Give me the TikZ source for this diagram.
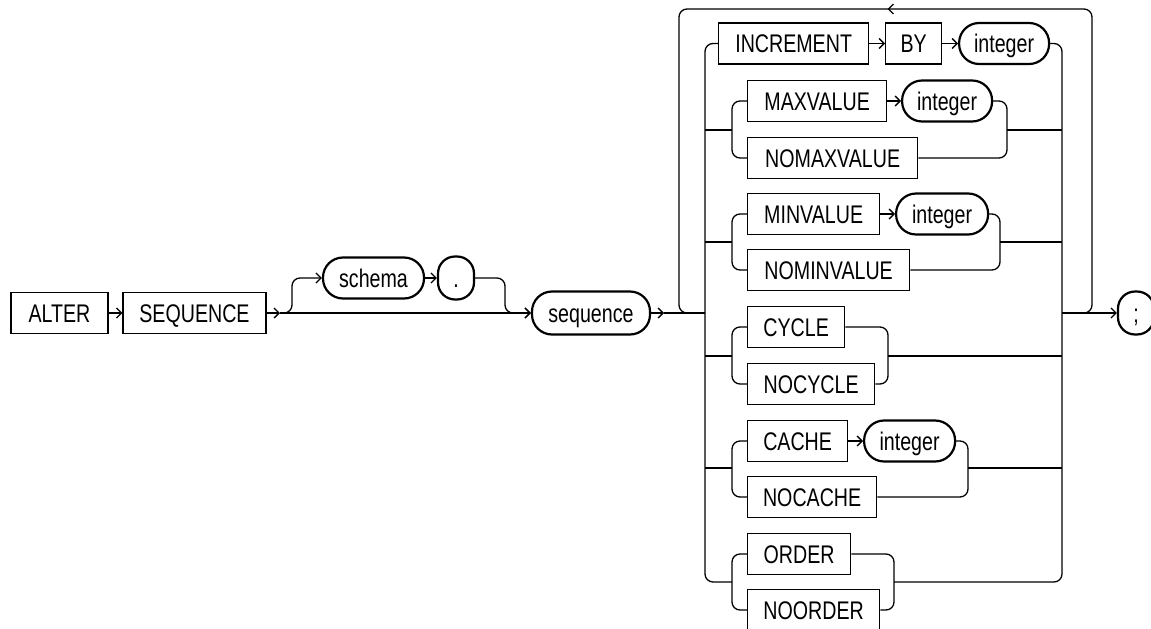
\documentclass[tikz,border=0pt]{standalone}
\usepackage{fontspec}
\setmainfont[FakeStretch=0.77]{Liberation Sans}
\usetikzlibrary{arrows.meta,decorations.markings}

\tikzset{
  kw/.style={draw,line width=1.3pt,minimum height=41pt,inner sep=0pt,
    text height=18.5pt,text depth=0pt,font=\fontsize{25.5}{30}\selectfont},
  ident/.style={kw,line width=2.2pt,rounded corners=20pt},
  rail/.style={line width=1.3pt,rounded corners=8pt},
  into/.style={-{Straight Barb[length=5pt,width=10pt]}},
  back/.style={postaction={decorate},decoration={markings,
    mark=at position 0.5 with {\arrow{Straight Barb[length=5pt,width=10pt]}}}},
}

\begin{document}
\begin{tikzpicture}[x=1pt,y=-1pt]
  \useasboundingbox (0,0) rectangle (1151,629);
  %% Head of the statement
  \node[kw,minimum width=97pt] (alter) at (59.5,313) {ALTER};
  \node[kw,minimum width=143pt] (seqkw) at (194.5,313) {SEQUENCE};
  \node[ident,minimum width=101pt] (schema) at (373.5,278) {schema};
  \node[ident,minimum width=36pt,minimum height=43pt,rounded corners=17pt] (dot) at (456,278) {.};
  \node[ident,minimum width=118pt,minimum height=43pt] (seqname) at (591,313) {sequence};
  \node[ident,minimum width=36pt,minimum height=43pt,rounded corners=17pt] (semi) at (1136,313) {;};
  %% Junctions
  \coordinate (sqtip) at (280,313);
  \coordinate (brA) at (292,278);
  \coordinate (brB) at (505,313);
  \coordinate (seqtip) at (664,313);
  \coordinate (lspine) at (705,313);
  \coordinate (rspine) at (1062,313);
  \coordinate (loopNE) at (1092,9);
  \coordinate (loopNW) at (679,9);
  \coordinate (maxL) at (732,130); \coordinate (maxR) at (1007,130);
  \coordinate (minL) at (732,242); \coordinate (minR) at (1000,242);
  \coordinate (cycL) at (732,356); \coordinate (cycR) at (888,356);
  \coordinate (cacL) at (732,468); \coordinate (cacR) at (968,468);
  \coordinate (ordL) at (732,582); \coordinate (ordR) at (894,582);
  %% Options
  \node[kw,anchor=west,minimum width=150pt] (incr) at (718,43.5) {INCREMENT};
  \node[kw,anchor=west,minimum width=56pt] (by) at (885,43.5) {BY};
  \node[ident,anchor=west,minimum width=90pt] (incrint) at (958,43.5) {integer};
  \node[kw,anchor=west,minimum width=139pt] (maxkw) at (747,101) {MAXVALUE};
  \node[ident,anchor=west,minimum width=90pt] (maxint) at (901,101) {integer};
  \node[kw,anchor=west,minimum width=170pt] (nomax) at (747,158) {NOMAXVALUE};
  \node[kw,anchor=west,minimum width=132pt] (minkw) at (747,214) {MINVALUE};
  \node[ident,anchor=west,minimum width=92pt] (minint) at (895,214) {integer};
  \node[kw,anchor=west,minimum width=162pt] (nomin) at (747,270) {NOMINVALUE};
  \node[kw,anchor=west,minimum width=97pt] (cyc) at (747,327) {CYCLE};
  \node[kw,anchor=west,minimum width=127pt] (nocyc) at (747,384) {NOCYCLE};
  \node[kw,anchor=west,minimum width=100pt] (cac) at (747,441) {CACHE};
  \node[ident,anchor=west,minimum width=91pt] (cacint) at (863,441) {integer};
  \node[kw,anchor=west,minimum width=129pt] (nocac) at (747,497) {NOCACHE};
  \node[kw,anchor=west,minimum width=103pt] (ord) at (747,554) {ORDER};
  \node[kw,anchor=west,minimum width=132pt] (noord) at (747,610) {NOORDER};
  %% Main line
  \draw[rail,into] (alter) -- (seqkw);
  \draw[rail,into] (seqkw) -- (sqtip);
  \draw[rail,into] (sqtip) -- (seqname);
  \draw[rail,into] (sqtip) -| (brA) -- (schema);
  \draw[rail,into] (schema) -- (dot);
  \draw[rail,into] (dot) -| (brB) -- (seqname);
  \draw[rail,into] (seqname) -- (seqtip);
  \draw[rail] (seqtip) -- (lspine);
  \draw[rail,into] (rspine) -- (semi);
  %% Repeat loop
  \draw[rail,back] (rspine) -| (loopNE) -- (loopNW) |- (lspine);
  %% Spines
  \draw[rail] (incr.west) -| (ordL -| lspine) -- (ordL);
  \draw[rail] (incrint.east) -| (ordR -| rspine) -- (ordR);
  \foreach \g in {max,min,cyc,cac}{
    \draw[rail] (\g L -| lspine) -- (\g L);
    \draw[rail] (\g R) -- (\g R -| rspine);
  }
  %% Inside the groups
  \draw[rail,into] (incr) -- (by);
  \draw[rail,into] (by) -- (incrint);
  \draw[rail,into] (maxkw) -- (maxint);
  \draw[rail,into] (minkw) -- (minint);
  \draw[rail,into] (cac) -- (cacint);
  \draw[rail] (maxkw.west) -| (maxL) |- (nomax.west);
  \draw[rail] (maxint.east) -| (maxR) |- (nomax.east);
  \draw[rail] (minkw.west) -| (minL) |- (nomin.west);
  \draw[rail] (minint.east) -| (minR) |- (nomin.east);
  \draw[rail] (cyc.west) -| (cycL) |- (nocyc.west);
  \draw[rail] (cyc.east) -| (cycR) |- (nocyc.east);
  \draw[rail] (cac.west) -| (cacL) |- (nocac.west);
  \draw[rail] (cacint.east) -| (cacR) |- (nocac.east);
  \draw[rail] (ord.west) -| (ordL) |- (noord.west);
  \draw[rail] (ord.east) -| (ordR) |- (noord.east);
\end{tikzpicture}
\end{document}
